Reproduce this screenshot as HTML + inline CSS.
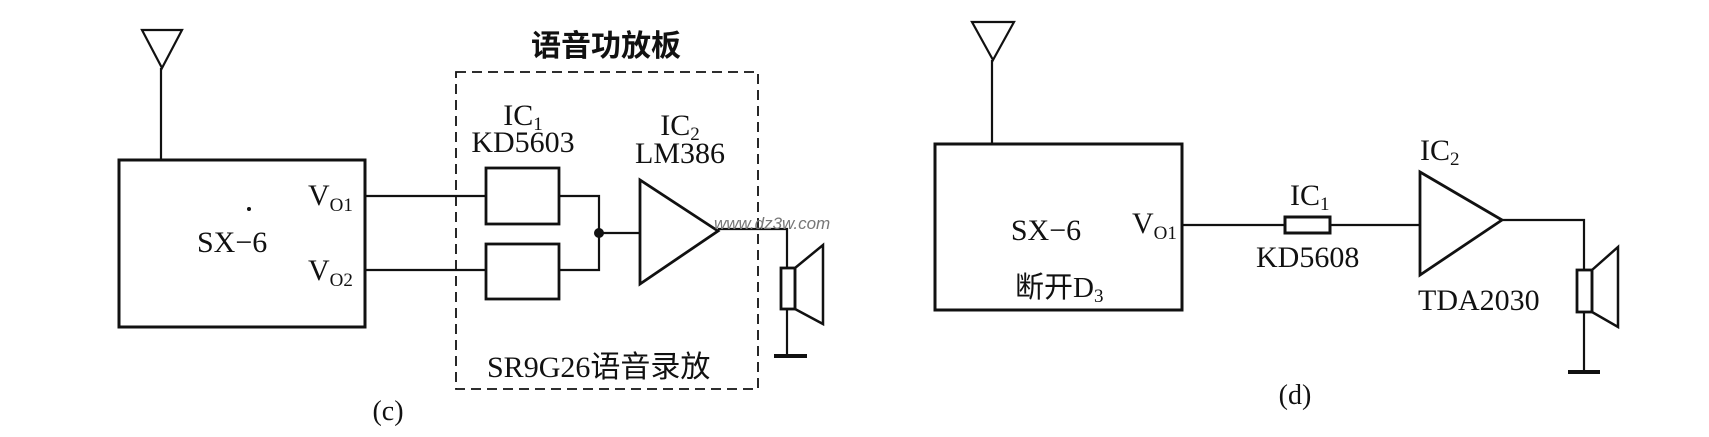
<!DOCTYPE html>
<html><head><meta charset="utf-8"><style>
html,body{margin:0;padding:0;background:#fff}
svg{display:block}
text{font-family:"Liberation Serif","Noto Serif CJK SC",serif;fill:#111}
.cn{font-family:"Liberation Serif","Noto Sans CJK SC",sans-serif}
</style></head><body>
<svg width="1709" height="437" viewBox="0 0 1709 437" xmlns="http://www.w3.org/2000/svg">
<g stroke="#111" stroke-width="2.2" fill="none">
<!-- left panel -->
<polygon points="142,30 182,30 162,68"/>
<line x1="161" y1="68" x2="161" y2="160"/>
<rect x="119" y="160" width="246" height="167" stroke-width="3"/>
<line x1="365" y1="196" x2="486" y2="196"/>
<line x1="365" y1="270" x2="486" y2="270"/>
<rect x="486" y="168" width="73" height="56" stroke-width="2.8"/>
<rect x="486" y="244" width="73" height="55" stroke-width="2.8"/>
<polyline points="559,196 599,196 599,270 559,270"/>
<line x1="599" y1="233" x2="640" y2="233"/>
<polygon points="640,180 640,284 718,231" stroke-width="2.8"/>
<polyline points="718,229 787,229 787,268"/>
<rect x="781" y="268" width="14" height="41" stroke-width="2.8"/>
<polygon points="795,268 823,245 823,324 795,309" stroke-width="2.5"/>
<line x1="787" y1="309" x2="787" y2="356"/>
<line x1="774" y1="356" x2="807" y2="356" stroke-width="4"/>
<rect x="456" y="72" width="302" height="317" stroke-width="1.8" stroke-dasharray="10,6"/>
<!-- right panel -->
<polygon points="972,22 1014,22 993,60"/>
<line x1="992" y1="60" x2="992" y2="144"/>
<rect x="935" y="144" width="247" height="166" stroke-width="3"/>
<line x1="1182" y1="225" x2="1285" y2="225"/>
<rect x="1285" y="217" width="45" height="16" stroke-width="3"/>
<line x1="1330" y1="225" x2="1420" y2="225"/>
<polygon points="1420,172 1420,275 1502,220" stroke-width="2.8"/>
<polyline points="1502,220 1584,220 1584,270"/>
<rect x="1577" y="270" width="15" height="42" stroke-width="2.8"/>
<polygon points="1592,270 1618,247 1618,327 1592,312" stroke-width="2.5"/>
<line x1="1584" y1="312" x2="1584" y2="372"/>
<line x1="1568" y1="372" x2="1600" y2="372" stroke-width="4"/>
</g>
<circle cx="599" cy="233" r="5" fill="#111"/>
<circle cx="249" cy="209" r="2" fill="#111"/>
<!-- left texts -->
<text x="606" y="56" font-size="30" font-weight="bold" text-anchor="middle" class="cn">语音功放板</text>
<text x="197" y="252" font-size="30">SX−6</text>
<text x="308" y="205" font-size="30">V<tspan font-size="19" dy="6">O1</tspan></text>
<text x="308" y="280" font-size="30">V<tspan font-size="19" dy="6">O2</tspan></text>
<text x="523" y="125" font-size="30" text-anchor="middle">IC<tspan font-size="19" dy="5">1</tspan></text>
<text x="523" y="152" font-size="30" text-anchor="middle">KD5603</text>
<text x="680" y="135" font-size="30" text-anchor="middle">IC<tspan font-size="19" dy="5">2</tspan></text>
<text x="680" y="163" font-size="30" text-anchor="middle">LM386</text>
<text x="714" y="229" font-size="17" font-style="italic" fill="#666" style="font-family:'Liberation Sans',sans-serif;fill:#777">www.dz3w.com</text>
<text x="487" y="377" font-size="30" class="cn">SR9G26语音录放</text>
<text x="388" y="420" font-size="28" text-anchor="middle">(c)</text>
<!-- right texts -->
<text x="1046" y="240" font-size="30" text-anchor="middle">SX−6</text>
<text x="1015" y="297" font-size="29" class="cn">断开D<tspan font-size="19" dy="5">3</tspan></text>
<text x="1132" y="233" font-size="30">V<tspan font-size="19" dy="6">O1</tspan></text>
<text x="1290" y="205" font-size="30">IC<tspan font-size="19" dy="5">1</tspan></text>
<text x="1256" y="267" font-size="30">KD5608</text>
<text x="1420" y="160" font-size="30">IC<tspan font-size="19" dy="5">2</tspan></text>
<text x="1418" y="310" font-size="30">TDA2030</text>
<text x="1295" y="404" font-size="28" text-anchor="middle">(d)</text>
</svg>
</body></html>
